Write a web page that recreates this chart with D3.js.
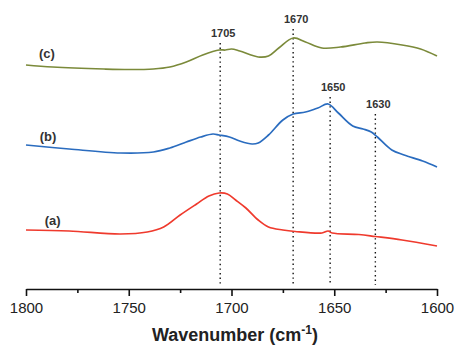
<!DOCTYPE html>
<html>
<head>
<meta charset="utf-8">
<script src="https://cdn.jsdelivr.net/npm/d3@7"></script>
<style>
  body { margin: 0; background: #fff; }
  svg { display: block; font-family: "Liberation Sans", Arial, sans-serif; }
</style>
</head>
<body>
<svg width="455" height="345"></svg>
<script>
// spectra, wavenumber (cm-1) vs absorbance (arbitrary, offset)
let waveA = [1800, 1779, 1754, 1741, 1733, 1725, 1717, 1711, 1706, 1702, 1698, 1693, 1687, 1682, 1675, 1669, 1656, 1653, 1651, 1638, 1630, 1617, 1600];
let absA  = [0.59, 0.58, 0.55, 0.57, 0.62, 0.74, 0.85, 0.93, 0.96, 0.95, 0.89, 0.81, 0.69, 0.62, 0.59, 0.575, 0.56, 0.58, 0.56, 0.545, 0.525, 0.49, 0.43];

let waveB = [1800, 1779, 1754, 1738, 1730, 1722, 1715, 1709, 1706, 1701, 1696, 1690, 1687, 1682, 1675, 1670, 1664, 1658, 1653, 1648, 1641, 1636, 1632, 1629, 1622, 1616, 1607, 1600];
let absB  = [1.44, 1.40, 1.36, 1.37, 1.41, 1.47, 1.52, 1.55, 1.54, 1.52, 1.48, 1.45, 1.46, 1.54, 1.69, 1.75, 1.77, 1.81, 1.85, 1.76, 1.63, 1.60, 1.57, 1.52, 1.39, 1.34, 1.28, 1.22];

let waveC = [1800, 1787, 1762, 1750, 1738, 1730, 1722, 1714, 1706, 1703, 1700, 1696, 1687, 1682, 1677, 1670, 1664, 1656, 1647, 1635, 1629, 1617, 1608, 1600];
let absC  = [2.24, 2.22, 2.20, 2.195, 2.20, 2.22, 2.27, 2.34, 2.39, 2.39, 2.40, 2.38, 2.32, 2.33, 2.41, 2.51, 2.47, 2.41, 2.42, 2.46, 2.47, 2.44, 2.40, 2.33];

let seriesNames = ["(a)", "(b)", "(c)"];
let labelWave = [1787, 1789.3, 1789.8];
let labelAbs = [0.64, 1.48, 2.31];

// marked bands
let peakLabels = ["1705", "1670", "1650", "1630"];
let peakWave = [1705.5, 1670, 1652, 1630];
let peakTop = [2.46, 2.60, 1.92, 1.75];

let majorTicks = [1800, 1750, 1700, 1650, 1600];
let minorTicks = [1775, 1725, 1675, 1625];

let svg = d3.select("svg");
let x = d3.scaleLinear().domain([1800, 1600]).range([26, 437]);
let y = d3.scaleLinear().domain([0, 2.8]).range([289, 9]);

let colors = ["#ef3a2d", "#2a6cbf", "#7b8a3a"];
let series = [
    waveA.map((w, i) => [w, absA[i]]),
    waveB.map((w, i) => [w, absB[i]]),
    waveC.map((w, i) => [w, absC[i]])
];

// dotted guide lines
svg.selectAll(".peak")
    .data(peakWave)
    .enter().append("line")
    .attr("class", "peak")
    .attr("x1", d => x(d)).attr("x2", d => x(d))
    .attr("y1", (d, i) => y(peakTop[i]))
    .attr("y2", y(0.04))
    .style("stroke", "#111")
    .style("stroke-width", 1.4)
    .style("stroke-dasharray", "1.4,3.2");

svg.selectAll(".peakLabel")
    .data(peakLabels)
    .enter().append("text")
    .attr("class", "peakLabel")
    .attr("x", (d, i) => x(peakWave[i]) + 3)
    .attr("y", (d, i) => y(peakTop[i]) - 6)
    .attr("text-anchor", "middle")
    .style("font-size", "11px")
    .style("font-weight", "bold")
    .style("fill", "#333")
    .text(d => d);

let line = d3.line()
    .x(d => x(d[0]))
    .y(d => y(d[1]))
    .curve(d3.curveCatmullRom.alpha(0.5));

svg.selectAll(".spectrum")
    .data(series)
    .enter().append("path")
    .attr("class", "spectrum")
    .attr("d", line)
    .style("fill", "none")
    .style("stroke", (d, i) => colors[i])
    .style("stroke-width", 1.7);

svg.selectAll(".seriesLabel")
    .data(seriesNames)
    .enter().append("text")
    .attr("class", "seriesLabel")
    .attr("x", (d, i) => x(labelWave[i]))
    .attr("y", (d, i) => y(labelAbs[i]))
    .attr("text-anchor", "middle")
    .style("font-size", "13px")
    .style("font-weight", "bold")
    .style("fill", "#333")
    .text(d => d);

// x axis
let axis = svg.append("g")
    .attr("transform", "translate(0,289)")
    .call(d3.axisBottom(x).tickValues(majorTicks).tickSize(7).tickSizeOuter(0).tickPadding(6).tickFormat(d3.format("d")));
axis.select(".domain").style("stroke", "#111").style("stroke-width", 1.6);
axis.selectAll(".tick line").style("stroke", "#111").style("stroke-width", 1.6);
axis.selectAll(".tick text").style("font-size", "15px").style("fill", "#222").style("font-family", "'Liberation Sans', Arial, sans-serif");

let minor = svg.append("g")
    .attr("transform", "translate(0,289)")
    .call(d3.axisBottom(x).tickValues(minorTicks).tickSize(4).tickSizeOuter(0).tickFormat(""));
minor.select(".domain").remove();
minor.selectAll(".tick line").style("stroke", "#111").style("stroke-width", 1.6);

let title = svg.append("text")
    .attr("x", 235)
    .attr("y", 341)
    .attr("text-anchor", "middle")
    .style("font-size", "18px")
    .style("font-weight", "bold")
    .style("fill", "#222");
title.append("tspan").text("Wavenumber (cm");
title.append("tspan").attr("dy", -7).style("font-size", "12px").text("-1");
title.append("tspan").attr("dy", 7).text(")");
</script>
</body>
</html>
